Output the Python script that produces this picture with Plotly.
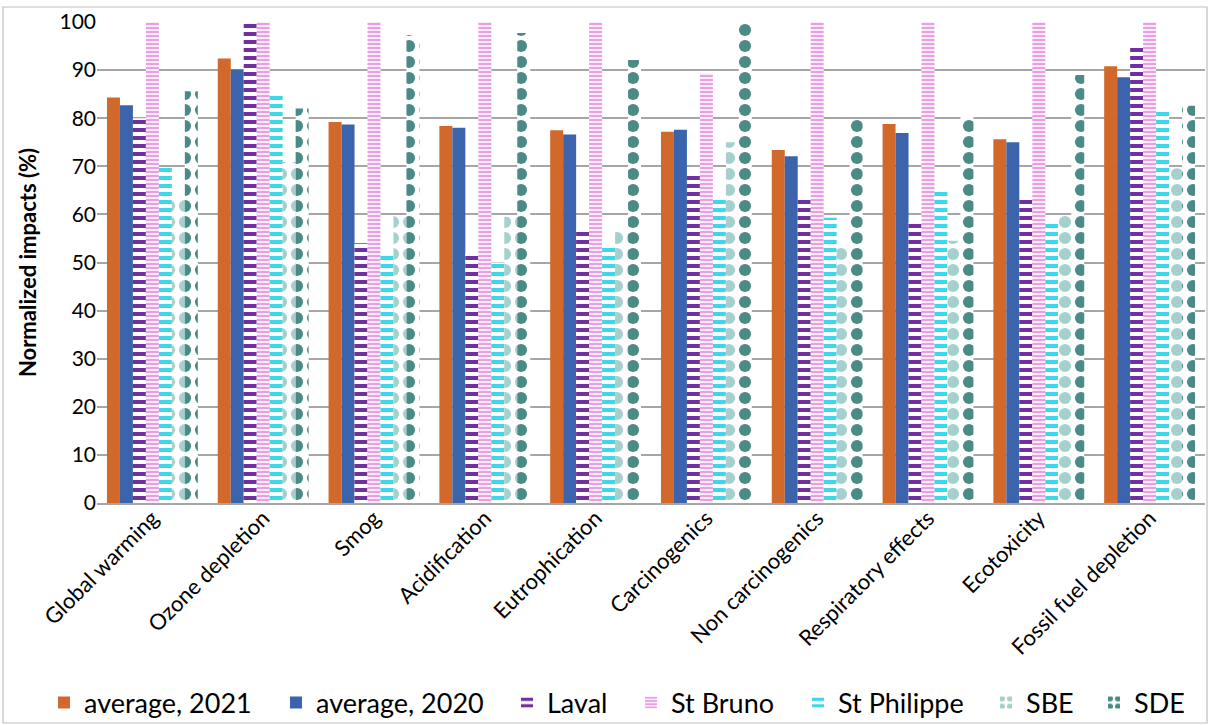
import plotly.graph_objects as go

categories = ["Global warming", "Ozone depletion", "Smog", "Acidification", "Eutrophication",
              "Carcinogenics", "Non carcinogenics", "Respiratory effects", "Ecotoxicity",
              "Fossil fuel depletion"]

avg_2021 = [84.3, 92.4, 79.2, 78.4, 77.5, 77.2, 73.4, 78.8, 75.6, 90.8]
avg_2020 = [82.7, 90.1, 78.7, 78.0, 76.6, 77.6, 72.1, 76.9, 75.0, 88.5]
laval = [80.0, 100.0, 54.0, 52.0, 56.6, 68.1, 63.0, 58.3, 63.0, 94.8]
st_bruno = [100.0, 100.0, 100.0, 100.0, 100.0, 89.4, 100.0, 100.0, 100.0, 100.0]
st_philippe = [69.7, 84.8, 51.6, 50.0, 53.8, 63.2, 59.3, 64.7, 58.3, 81.5]
sbe = [63.4, 70.9, 59.9, 59.5, 56.5, 75.0, 53.0, 54.5, 59.9, 69.6]
sde = [85.6, 82.0, 97.3, 97.7, 92.1, 100.0, 79.6, 80.3, 89.0, 82.6]

y_ticks = [0, 10, 20, 30, 40, 50, 60, 70, 80, 90, 100]

FONT = "Lato, Carlito, Calibri, sans-serif"

series = [
    ("average, 2021", avg_2021, dict(color="#D2692A")),
    ("average, 2020", avg_2020, dict(color="#3B64AD")),
    ("Laval", laval, dict(color="white", pattern=dict(shape="-", fgcolor="#7030A0", bgcolor="white", fgopacity=1, size=8, solidity=0.5))),
    ("St Bruno", st_bruno, dict(color="white", pattern=dict(shape="-", fgcolor="#E9A0E3", bgcolor="white", fgopacity=1, size=4, solidity=0.6))),
    ("St Philippe", st_philippe, dict(color="white", pattern=dict(shape="-", fgcolor="#3DD8E8", bgcolor="white", fgopacity=1, size=8, solidity=0.5))),
    ("SBE", sbe, dict(color="white", pattern=dict(shape=".", fgcolor="#A6D0CD", bgcolor="white", fgopacity=1, size=16, solidity=0.45))),
    ("SDE", sde, dict(color="white", pattern=dict(shape=".", fgcolor="#4A8B87", bgcolor="white", fgopacity=1, size=16, solidity=0.45))),
]

W, H = 1210, 725
# legend text start positions (px)
legend_text_px = [84, 316, 547, 671, 838, 1026, 1134]
PL, PR, PT, PB = 97, 5, 22, 222
pw = W - PL - PR
ph = H - PT - PB

fig = go.Figure()
legend_layouts = {}
for i, (name, vals, mk) in enumerate(series):
    mk = dict(mk)
    mk["line"] = dict(width=0)
    lname = f"legend{i+2}"
    fig.add_trace(go.Bar(name=name, x=categories, y=vals, marker=mk, legend=lname))
    legend_layouts[lname] = dict(
        xref="container", yref="container",
        x=(legend_text_px[i] - 40) / W, xanchor="left",
        y=1 - 703 / H, yanchor="middle",
        orientation="h", font=dict(size=27, family=FONT, color="black"),
        bgcolor="rgba(0,0,0,0)", itemwidth=30,
    )

fig.update_layout(
    width=W, height=H,
    barmode="group", bargap=0.18, bargroupgap=0,
    plot_bgcolor="white", paper_bgcolor="white",
    margin=dict(l=PL, r=PR, t=PT, b=PB, autoexpand=False),
    font=dict(family=FONT, size=20, color="black"),
    xaxis=dict(tickangle=-45, showline=True, linecolor="#A6A6A6", linewidth=1.5,
               tickfont=dict(size=22, family=FONT), ticks="", automargin=False,
               ticklabelstandoff=-8),
    yaxis=dict(range=[0, 100], tickvals=y_ticks, showgrid=True, gridcolor="#A6A6A6",
               gridwidth=1.5, zeroline=False, tickfont=dict(size=21, family=FONT),
               automargin=False,
               title=dict(text="<b>Normalized impacts (%)</b>", font=dict(size=22, family=FONT), standoff=16)),
    shapes=[dict(type="rect", xref="paper", yref="paper",
                 x0=(3 - PL) / pw, x1=(1207 - PL) / pw,
                 y0=(503 - 723) / ph, y1=(503 - 7) / ph,
                 line=dict(color="#BFBFBF", width=1.2))],
    **legend_layouts,
)

fig.write_html("out.html", config={"displayModeBar": False},
               post_script="document.body.style.margin='0';document.body.style.overflow='hidden';")
